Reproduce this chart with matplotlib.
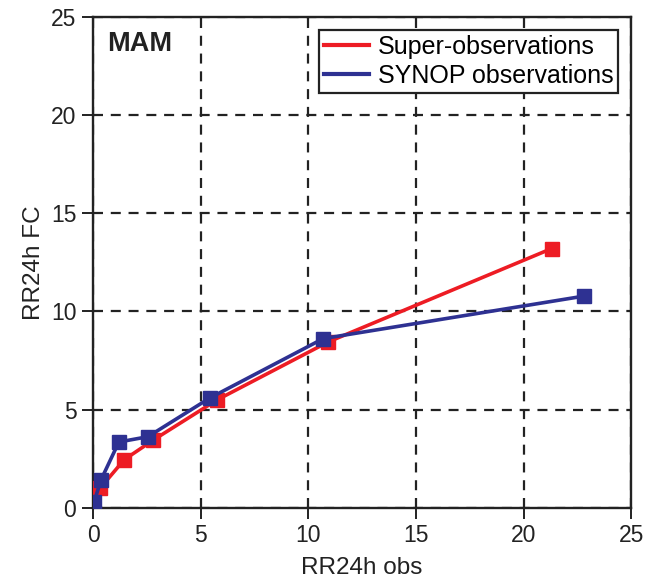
import matplotlib.pyplot as plt

plt.rcParams["font.family"] = ["Liberation Sans", "DejaVu Sans"]

# forecast vs observed 24h precipitation
super_obs_x = [0.02, 0.33, 1.45, 2.8, 5.77, 10.93, 21.3]
super_obs_y = [0.15, 1.0, 2.45, 3.45, 5.5, 8.45, 13.2]
synop_x = [0.05, 0.37, 1.2, 2.55, 5.44, 10.7, 22.8]
synop_y = [0.3, 1.42, 3.35, 3.62, 5.6, 8.62, 10.78]

red = "#ed1c24"
blue = "#2e3192"
ink = "#222222"

fig = plt.figure(figsize=(6.46, 5.85), dpi=100)
ax = fig.add_axes([0.144, 0.132, 0.833, 0.839])

ax.plot(super_obs_x, super_obs_y, color=red, lw=2.6, marker="s", ms=9.5,
        label="Super-observations", zorder=3)
ax.plot(synop_x, synop_y, color=blue, lw=2.6, marker="s", ms=9.5,
        label="SYNOP observations", zorder=4)

ax.set_xlim(0, 25)
ax.set_ylim(0, 25)
ax.set_xticks(range(0, 26, 5))
ax.set_yticks(range(0, 26, 5))
ax.grid(True, color=ink, ls=(0, (4.5, 3.5)), lw=1.6)
ax.tick_params(direction="out", length=8, width=1.4, labelsize=16.5,
               colors=ink, pad=4)
for s in ax.spines.values():
    s.set_linewidth(1.7)
    s.set_color(ink)

ax.set_xlabel("RR24h obs", fontsize=17.5, color=ink, labelpad=7)
ax.set_ylabel("RR24h FC", fontsize=17.5, color=ink, labelpad=4)
ax.text(0.027, 0.945, "MAM", transform=ax.transAxes, fontsize=19.5,
        fontweight="bold", color=ink, va="center")

leg = ax.legend(handles=[ax.lines[0], ax.lines[1]], loc="upper right",
                bbox_to_anchor=(0.976, 0.9735), fontsize=18, fancybox=False,
                framealpha=1, edgecolor=ink, handlelength=1.8,
                borderpad=0.2, labelspacing=0.2, handletextpad=0.35,
                borderaxespad=0)
leg.get_frame().set_linewidth(1.6)
for h in leg.legend_handles:
    h.set_marker("")
    h.set_linewidth(3)

fig.savefig("out.png", dpi=100)
